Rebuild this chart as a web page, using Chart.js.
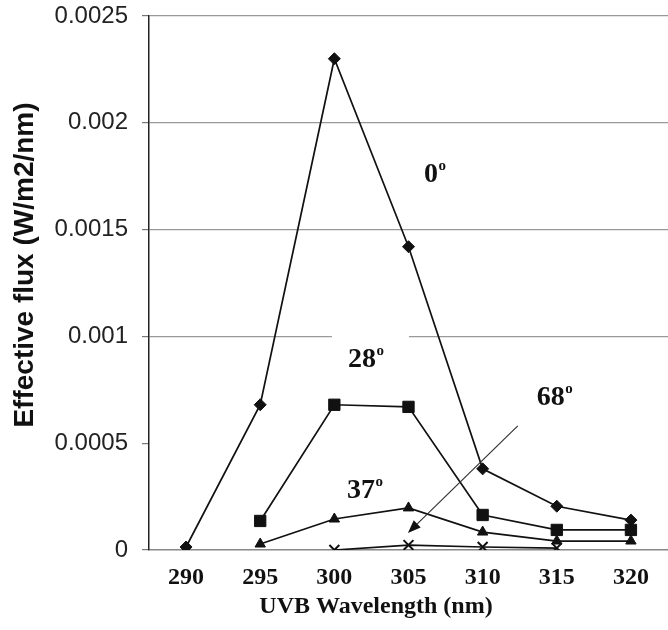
<!DOCTYPE html>
<html><head><meta charset="utf-8">
<script src="https://cdn.jsdelivr.net/npm/chart.js@4/dist/chart.umd.min.js"></script>
<style>html,body{margin:0;padding:0;background:#fff}</style>
</head><body>
<canvas id="c" width="668" height="630"></canvas>
<script>
const wavelengths = ['290', '295', '300', '305', '310', '315', '320'];
const flux0  = [0.000014, 0.00068, 0.0023, 0.00142, 0.00038, 0.000205, 0.00014];
const flux28 = [null, 0.000136, 0.00068, 0.00067, 0.000164, 0.000094, 0.000094];
const flux37 = [null, 0.000028, 0.000145, 0.000197, 0.000084, 0.000042, 0.000042];
const flux68 = [null, null, 0, 0.000023, 0.000014, 0.000009, null];
const yTickLabels = ['0', '0.0005', '0.001', '0.0015', '0.002', '0.0025'];
const seriesAngles = ['0', '28', '37', '68'];
const xTitle = 'UVB Wavelength (nm)';
const yTitle = 'Effective flux (W/m2/nm)';

const serif = '"Liberation Serif", "Times New Roman", serif';
const sans = '"Liberation Sans", Arial, sans-serif';

function ds(data, style, radius) {
  return {
    data: data,
    borderColor: '#111',
    backgroundColor: '#111',
    borderWidth: 1.7,
    pointStyle: style,
    pointRadius: radius,
    pointHoverRadius: radius,
    pointBorderWidth: style === 'crossRot' ? 2 : 1,
    pointBackgroundColor: '#111',
    pointBorderColor: '#111',
    tension: 0,
    spanGaps: false
  };
}

// annotation anchors expressed in data units (category index, flux value)
const labelAnchors = [
  { i: 3.208, v: 0.001723 },
  { i: 2.183, v: 0.000857 },
  { i: 2.17,  v: 0.000243 },
  { i: 4.73,  v: 0.000679 }
];

const annot = {
  id: 'annot',
  beforeDatasetsDraw(chart) {
    const { ctx, scales: { x, y } } = chart;
    const a = labelAnchors[1];
    const px = x.getPixelForValue(a.i), py = y.getPixelForValue(a.v);
    ctx.save();
    ctx.fillStyle = '#fff';
    ctx.fillRect(px - 16, py - 35, 77, 40);
    ctx.restore();
  },
  afterDatasetsDraw(chart) {
    const { ctx, scales: { x, y } } = chart;
    ctx.save();
    ctx.fillStyle = '#111';
    ctx.textBaseline = 'alphabetic';
    ctx.textAlign = 'left';
    seriesAngles.forEach((t, k) => {
      const a = labelAnchors[k];
      const px = x.getPixelForValue(a.i), py = y.getPixelForValue(a.v);
      ctx.font = 'bold 28px ' + serif;
      ctx.fillText(t, px, py);
      const w = ctx.measureText(t).width;
      ctx.font = 'bold 15px ' + serif;
      ctx.fillText('o', px + w + 0.5, py - 12);
    });
    // arrow pointing to the 68 degree series
    const x1 = x.getPixelForValue(4.474), y1 = y.getPixelForValue(0.000581);
    const x2 = x.getPixelForValue(2.992), y2 = y.getPixelForValue(0.00008);
    const ang = Math.atan2(y2 - y1, x2 - x1);
    ctx.strokeStyle = '#333';
    ctx.lineWidth = 1.2;
    ctx.beginPath();
    ctx.moveTo(x1, y1);
    ctx.lineTo(x2 - Math.cos(ang) * 8, y2 - Math.sin(ang) * 8);
    ctx.stroke();
    ctx.fillStyle = '#111';
    ctx.beginPath();
    ctx.moveTo(x2, y2);
    ctx.lineTo(x2 - Math.cos(ang) * 13 + Math.sin(ang) * 5, y2 - Math.sin(ang) * 13 - Math.cos(ang) * 5);
    ctx.lineTo(x2 - Math.cos(ang) * 13 - Math.sin(ang) * 5, y2 - Math.sin(ang) * 13 + Math.cos(ang) * 5);
    ctx.closePath();
    ctx.fill();
    ctx.restore();
  },
  afterDraw(chart) {
    const { ctx } = chart;
    ctx.save();
    ctx.fillStyle = '#111';
    ctx.font = 'bold 24px ' + serif;
    ctx.textAlign = 'center';
    ctx.textBaseline = 'alphabetic';
    ctx.fillText(xTitle, 376, 613);
    ctx.translate(33, 265);
    ctx.rotate(-Math.PI / 2);
    ctx.font = 'bold 28px ' + sans;
    ctx.fillText(yTitle, 0, 0);
    ctx.restore();
  }
};

new Chart(document.getElementById('c'), {
  type: 'line',
  data: {
    labels: wavelengths,
    datasets: [
      ds(flux0, 'rectRot', 6),
      ds(flux28, 'rect', 8),
      ds(flux37, 'triangle', 6),
      ds(flux68, 'crossRot', 7)
    ]
  },
  options: {
    responsive: false,
    animation: false,
    devicePixelRatio: 1,
    layout: { autoPadding: false, padding: { top: 16, right: 0, bottom: 0, left: 0 } },
    plugins: { legend: { display: false }, tooltip: { enabled: false } },
    scales: {
      x: {
        type: 'category',
        offset: true,
        grid: { display: false, drawTicks: false },
        border: { display: true, color: '#888', width: 1.5 },
        ticks: { color: '#111', font: { family: serif, size: 24, weight: 'bold' }, padding: 13, maxRotation: 0, autoSkip: false },
        afterFit: s => { s.height = 80; s.paddingLeft = 0; s.paddingRight = 0; }
      },
      y: {
        min: 0,
        max: 0.0025,
        grid: {
          color: c => (c.tick && (Math.abs(c.tick.value - 0.0005) < 1e-9 || c.tick.value === 0)) ? 'rgba(0,0,0,0)' : '#999',
          tickColor: '#777',
          tickLength: 7,
          lineWidth: 1.2
        },
        border: { display: true, color: '#222', width: 1.5 },
        ticks: {
          stepSize: 0.0005,
          padding: 14,
          color: '#222',
          font: { family: sans, size: 24 },
          callback: (v, idx) => yTickLabels[idx]
        },
        afterFit: s => { s.width = 149; s.paddingTop = 0; s.paddingBottom = 0; }
      }
    }
  },
  plugins: [annot]
});
</script>
</body></html>
